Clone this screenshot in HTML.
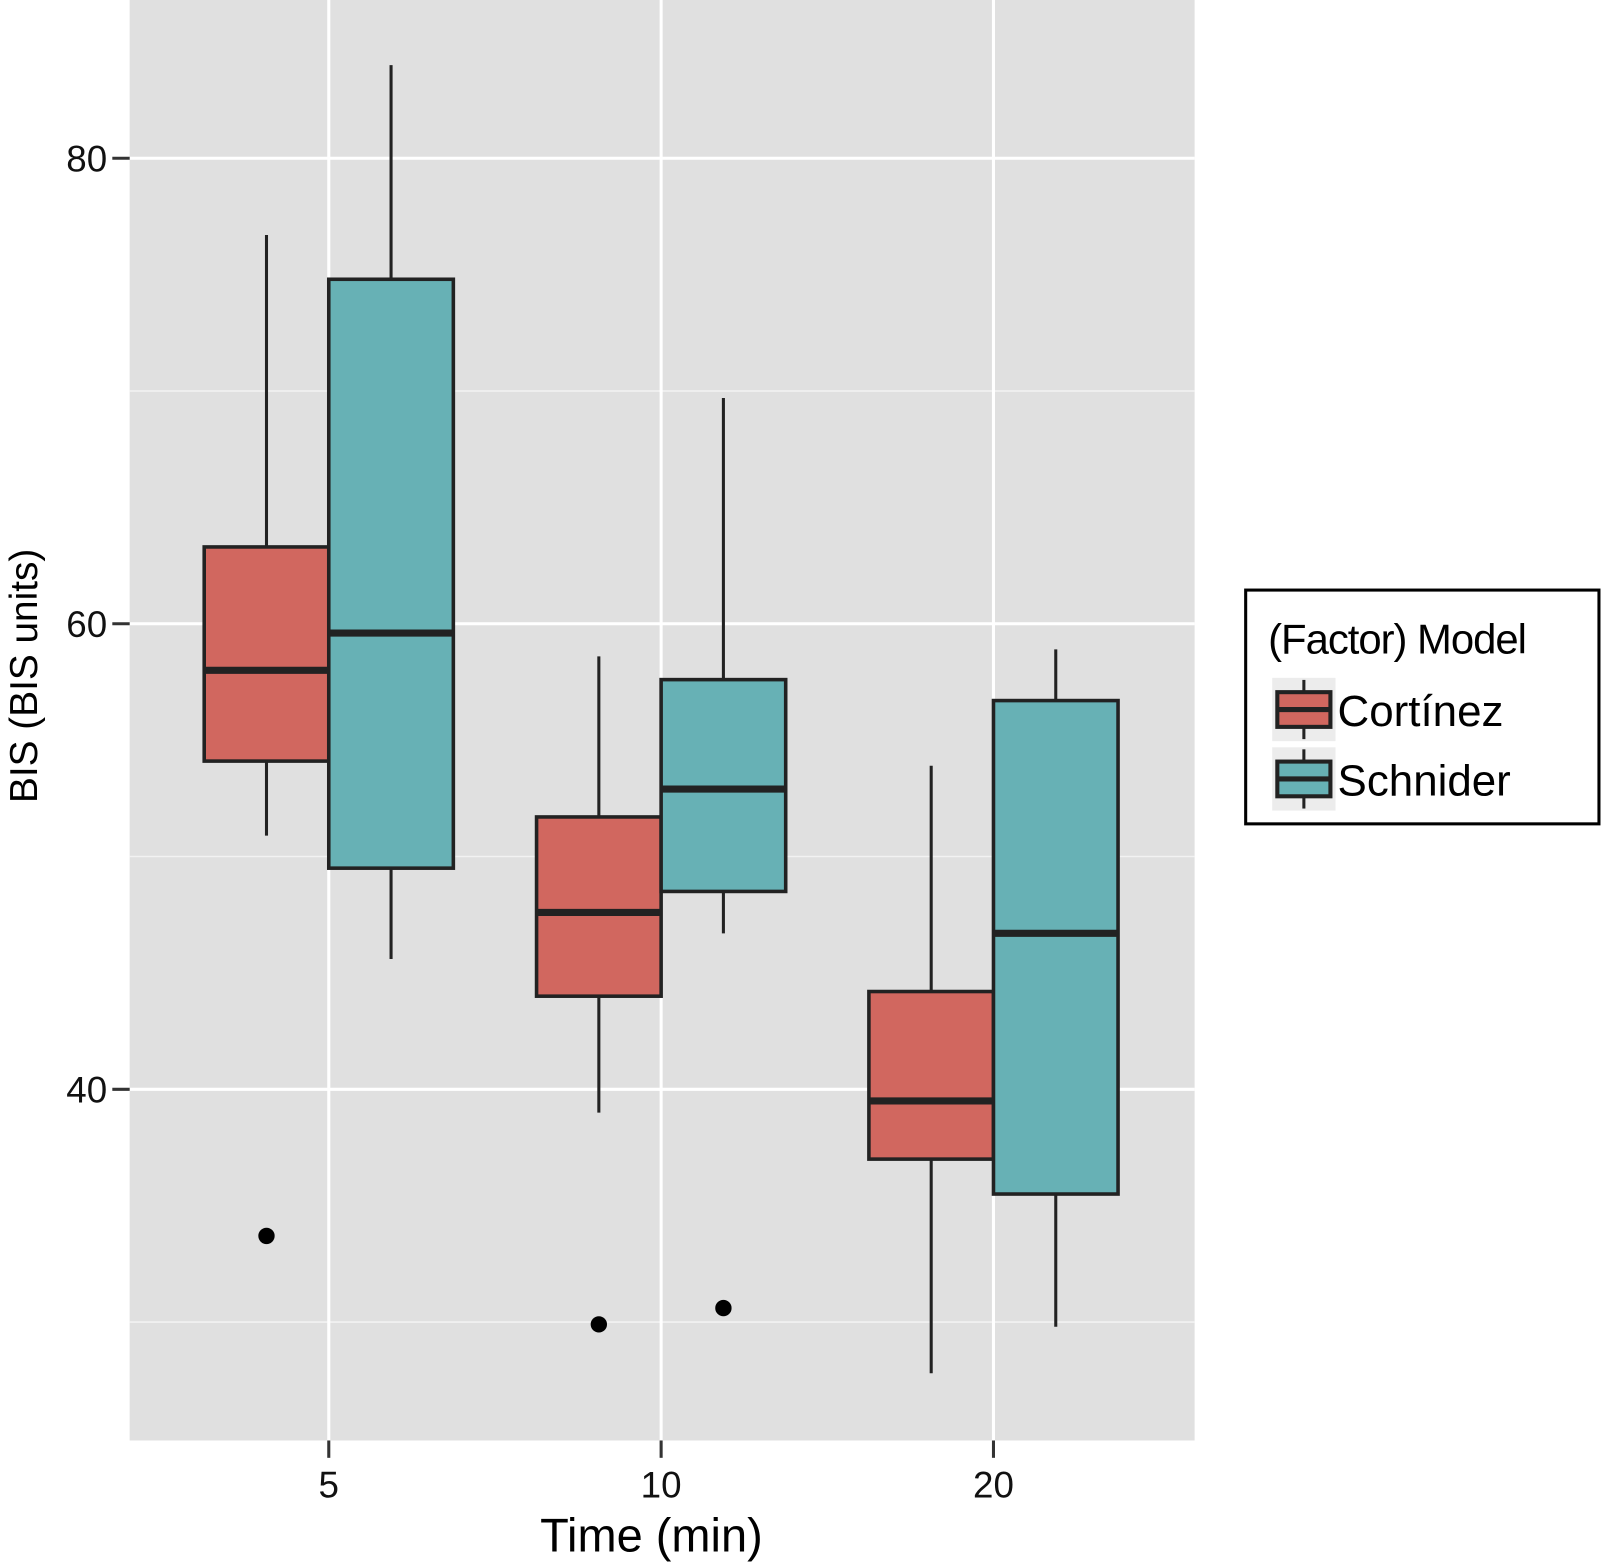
<!DOCTYPE html>
<html><head><meta charset="utf-8"><style>
html,body{margin:0;padding:0;background:#fff;}
svg{display:block;font-family:"Liberation Sans",sans-serif;}
</style></head><body>
<svg id="chart" width="1601" height="1564" viewBox="0 0 1568 1532" preserveAspectRatio="none">
<rect x="127" y="0" width="1043" height="1411" fill="#e0e0e0"/>
<g id="grid"></g>
<g id="boxes"></g>
<g id="axes"></g>
<text x="638" y="1520" font-size="46" text-anchor="middle">Time (min)</text>
<text transform="translate(36,662) rotate(-90)" font-size="38" text-anchor="middle">BIS (BIS units)</text>
<g>
<rect x="1220" y="578" width="346" height="229" fill="#fff" stroke="#000" stroke-width="3"/>
<text x="1242" y="640" font-size="41" letter-spacing="-1">(Factor) Model</text>
<rect x="1246" y="664" width="62" height="62" fill="#ececec"/>
<line x1="1277" y1="666" x2="1277" y2="724" stroke="#222" stroke-width="3"/>
<rect x="1251" y="678" width="52" height="34" fill="#d1675f" stroke="#222" stroke-width="4"/>
<line x1="1251" y1="695" x2="1303" y2="695" stroke="#222" stroke-width="5"/>
<text x="1310" y="711" font-size="43">Cortínez</text>
<rect x="1246" y="732" width="62" height="62" fill="#ececec"/>
<line x1="1277" y1="734" x2="1277" y2="792" stroke="#222" stroke-width="3"/>
<rect x="1251" y="746" width="52" height="34" fill="#67b1b5" stroke="#222" stroke-width="4"/>
<line x1="1251" y1="763" x2="1303" y2="763" stroke="#222" stroke-width="5"/>
<text x="1310" y="779" font-size="43">Schnider</text>
</g>
</svg>
<script>
const categories = ["5","10","20"];
const models = ["Cortínez","Schnider"];
const upperWhisker = [[76.7,58.6,53.9],[84.0,69.7,58.9]];
const q3 = [[63.3,51.7,44.2],[74.8,57.6,56.7]];
const median = [[58.0,47.6,39.5],[59.6,52.9,46.7]];
const q1 = [[54.1,44.0,37.0],[49.5,48.5,35.5]];
const lowerWhisker = [[50.9,39.0,27.8],[45.6,46.7,29.8]];
const outliers = [[[33.7],[29.9],[]],[[],[30.6],[]]];
const yTicks = [40,60,80];
const yMinor = [30,50,70];

const NS="http://www.w3.org/2000/svg";
function y(v){return 611-(v-60)*22.8;}
function xc(i){return 322+i*325.5;}
function mk(tag,attrs,parent){const e=document.createElementNS(NS,tag);for(const k in attrs)e.setAttribute(k,attrs[k]);parent.appendChild(e);return e;}
const grid=document.getElementById('grid'),boxes=document.getElementById('boxes'),axes=document.getElementById('axes');
yMinor.forEach(v=>{const l=mk('line',{x1:127,x2:1170,y1:y(v),y2:y(v),stroke:'#f2f2f2','stroke-width':1.5},grid);

});
yTicks.forEach(v=>{const l=mk('line',{x1:127,x2:1170,y1:y(v),y2:y(v),stroke:'#fff','stroke-width':3},grid);


const t=mk('line',{x1:110,x2:127,y1:y(v),y2:y(v),stroke:'#333','stroke-width':3},axes);


const tx=mk('text',{x:105,y:y(v)+13,'font-size':36,'text-anchor':'end',fill:'#111'},axes);tx.textContent=v;

});
categories.forEach((c,i)=>{const l=mk('line',{x1:xc(i),x2:xc(i),y1:0,y2:1411,stroke:'#fff','stroke-width':3},grid);


const t=mk('line',{x1:xc(i),x2:xc(i),y1:1411,y2:1428,stroke:'#333','stroke-width':3},axes);


const tx=mk('text',{x:xc(i),y:1467,'font-size':36,'text-anchor':'middle',fill:'#111'},axes);tx.textContent=c;

});
const fills=['#d1675f','#67b1b5'];
models.forEach((m,s)=>{categories.forEach((c,i)=>{
const cx=xc(i)+(s===0?-61:61),w=122;
const g=mk('g',{},boxes);


mk('line',{x1:cx,x2:cx,y1:y(upperWhisker[s][i]),y2:y(lowerWhisker[s][i]),stroke:'#222','stroke-width':3},g);
mk('rect',{x:cx-w/2,y:y(q3[s][i]),width:w,height:y(q1[s][i])-y(q3[s][i]),fill:fills[s],stroke:'#222','stroke-width':3.5},g);
mk('line',{x1:cx-w/2,x2:cx+w/2,y1:y(median[s][i]),y2:y(median[s][i]),stroke:'#222','stroke-width':7},g);
outliers[s][i].forEach(v=>{const p=mk('circle',{cx:cx,cy:y(v),r:8,fill:'#000'},boxes);

});
});});
</script>
</body></html>
